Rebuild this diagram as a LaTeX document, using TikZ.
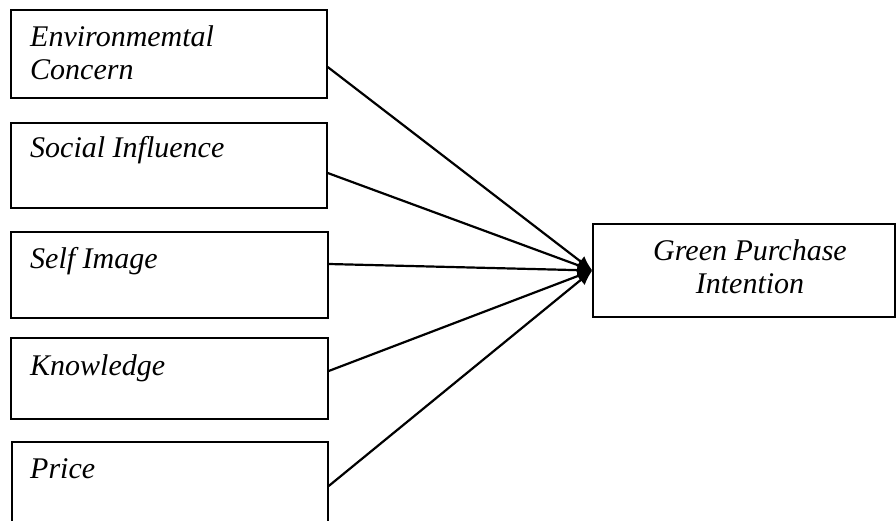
\documentclass[tikz,border=0pt]{standalone}
\usepackage{fontspec}
\setmainfont{Liberation Serif}
\usetikzlibrary{arrows.meta}
\begin{document}
\begin{tikzpicture}[x=1pt,y=-1pt,
  varbox/.style={draw,line width=1.4pt,rectangle,inner sep=0pt},
  lbl/.style={inner sep=0pt,font=\fontsize{30}{33}\selectfont\itshape,align=left},
  link/.style={line width=2.2pt,-{Latex[length=15pt,width=13pt]}}]
\useasboundingbox (0,0) rectangle (896,521);
\clip (0,0) rectangle (896,521);
\fill[white] (0,0) rectangle (896,521);
% boxes
\node[varbox,minimum width=316pt,minimum height=88pt] (b1) at (169,54) {};
\node[varbox,minimum width=316pt,minimum height=85pt] (b2) at (169,165.5) {};
\node[varbox,minimum width=317pt,minimum height=86pt] (b3) at (169.5,275) {};
\node[varbox,minimum width=317pt,minimum height=81pt] (b4) at (169.5,378.5) {};
\node[varbox,minimum width=316pt,minimum height=88pt] (b5) at (170,486) {};
\node[varbox,minimum width=302pt,minimum height=93pt] (g) at (744,270.5) {};
% labels
\node[lbl,anchor=base west] (t1) at (30,80) {Environmemtal\\Concern};
\node[lbl,anchor=base west] (t2) at (30,158) {Social Influence};
\node[lbl,anchor=base west] (t3) at (30,268) {Self Image};
\node[lbl,anchor=base west] (t4) at (30,375) {Knowledge};
\node[lbl,anchor=base west] (t5) at (30,478) {Price};
\node[lbl,align=center,anchor=base] (tg) at (750,293) {Green Purchase\\Intention};
% connectors
\draw[link] ([yshift=-13pt]b1.east) -- (g.west);
\draw[link] ([yshift=-7.5pt]b2.east) -- (g.west);
\draw[link] ([yshift=11pt]b3.east) -- (g.west);
\draw[link] ([yshift=7.5pt]b4.east) -- (g.west);
\draw[link] (b5.east) -- (g.west);
\end{tikzpicture}
\end{document}
